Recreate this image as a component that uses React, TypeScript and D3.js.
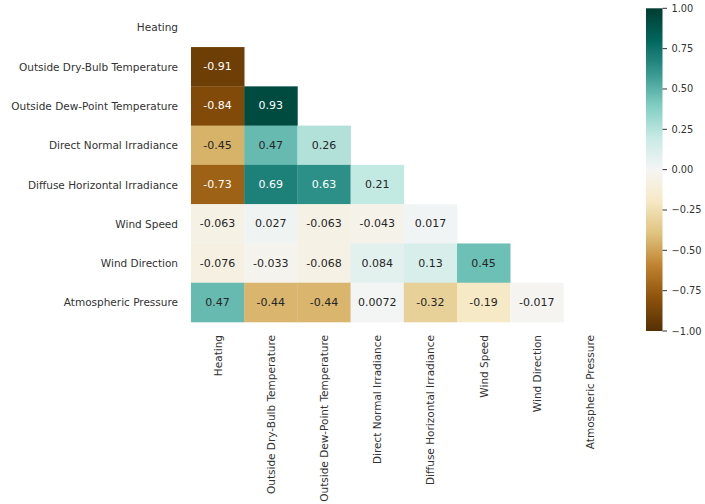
import React from "react";
import * as d3 from "d3";

const variables = [
  "Heating",
  "Outside Dry-Bulb Temperature",
  "Outside Dew-Point Temperature",
  "Direct Normal Irradiance",
  "Diffuse Horizontal Irradiance",
  "Wind Speed",
  "Wind Direction",
  "Atmospheric Pressure",
];

// lower-triangle correlations (row i, columns 0..i-1)
const rowDryBulb = [-0.91];
const rowDewPoint = [-0.84, 0.93];
const rowDNI = [-0.45, 0.47, 0.26];
const rowDHI = [-0.73, 0.69, 0.63, 0.21];
const rowWindSpeed = [-0.063, 0.027, -0.063, -0.043, 0.017];
const rowWindDir = [-0.076, -0.033, -0.068, 0.084, 0.13, 0.45];
const rowPressure = [0.47, -0.44, -0.44, 0.0072, -0.32, -0.19, -0.017];
const lowerRows: number[][] = [[], rowDryBulb, rowDewPoint, rowDNI, rowDHI, rowWindSpeed, rowWindDir, rowPressure];
const annotLabels: string[][] = [
  [],
  ["-0.91"],
  ["-0.84", "0.93"],
  ["-0.45", "0.47", "0.26"],
  ["-0.73", "0.69", "0.63", "0.21"],
  ["-0.063", "0.027", "-0.063", "-0.043", "0.017"],
  ["-0.076", "-0.033", "-0.068", "0.084", "0.13", "0.45"],
  ["0.47", "-0.44", "-0.44", "0.0072", "-0.32", "-0.19", "-0.017"],
];

const colorbarTicks = [-1, -0.75, -0.5, -0.25, 0, 0.25, 0.5, 0.75, 1];
const brbg = ["#543005", "#8c510a", "#bf812d", "#dfc27d", "#f6e8c3", "#f5f5f5", "#c7eae5", "#80cdc1", "#35978f", "#01665e", "#003c30"];

const FONT = "'DejaVu Sans', sans-serif";

function luminance(c: string) {
  const rgb = d3.rgb(c);
  const f = (v: number) => {
    v = v / 255;
    return v <= 0.03928 ? v / 12.92 : Math.pow((v + 0.055) / 1.055, 2.4);
  };
  return 0.2126 * f(rgb.r) + 0.7152 * f(rgb.g) + 0.0722 * f(rgb.b);
}

export default function App() {
  const W = 705, H = 504;
  const left = 191, right = 616.6, top = 7.8, bottom = 322;
  const x = d3.scaleBand<number>().domain(d3.range(8)).range([left, right]).padding(0);
  const y = d3.scaleBand<number>().domain(d3.range(8)).range([top, bottom]).padding(0);
  const color = d3
    .scaleLinear<string>()
    .domain(d3.range(11).map((i) => -1 + (2 * i) / 10))
    .range(brbg)
    .interpolate(d3.interpolateRgb)
    .clamp(true);

  const cbX = 646, cbW = 16.5, cbTop = 8.3, cbBottom = 331;
  const cbY = d3.scaleLinear().domain([-1, 1]).range([cbBottom, cbTop]);
  const fmt = (v: number) => (v < 0 ? "\u2212" : "") + Math.abs(v).toFixed(2);

  const cells: React.ReactNode[] = [];
  lowerRows.forEach((row, i) => {
    row.forEach((v, j) => {
      const c = color(v);
      const txt = luminance(c) > 0.408 ? "#262626" : "#ffffff";
      cells.push(
        <g key={`c${i}-${j}`}>
          <rect x={x(j)!} y={y(i)!} width={x.bandwidth() + 0.3} height={y.bandwidth() + 0.3} fill={c} />
          <text
            x={x(j)! + x.bandwidth() / 2}
            y={y(i)! + y.bandwidth() / 2}
            textAnchor="middle"
            dominantBaseline="central"
            fontSize={11}
            fill={txt}
          >
            {annotLabels[i][j]}
          </text>
        </g>
      );
    });
  });

  const gradStops = d3.range(0, 101).map((k) => {
    const v = -1 + (2 * k) / 100;
    return <stop key={k} offset={`${k}%`} stopColor={color(v)} />;
  });

  return (
    <svg width={W} height={H} style={{ position: "absolute", left: 0, top: 0, background: "#fff" }} fontFamily={FONT}>
      <defs>
        <linearGradient id="cbgrad" x1="0" y1="1" x2="0" y2="0">
          {gradStops}
        </linearGradient>
      </defs>
      {cells}
      {variables.map((name, i) => (
        <text
          key={`yl${i}`}
          x={178}
          y={y(i)! + y.bandwidth() / 2}
          textAnchor="end"
          dominantBaseline="central"
          fontSize={10.5}
          fill="#333333"
        >
          {name}
        </text>
      ))}
      {variables.map((name, i) => {
        const cx = x(i)! + x.bandwidth() / 2;
        const cy = 335;
        return (
          <text
            key={`xl${i}`}
            transform={`translate(${cx},${cy}) rotate(-90)`}
            textAnchor="end"
            dominantBaseline="central"
            fontSize={10.5}
            fill="#333333"
          >
            {name}
          </text>
        );
      })}
      <rect x={cbX} y={cbTop} width={cbW} height={cbBottom - cbTop} fill="url(#cbgrad)" />
      {colorbarTicks.map((t) => (
        <g key={`cb${t}`}>
          <line x1={cbX + cbW} x2={cbX + cbW + 4.5} y1={cbY(t)} y2={cbY(t)} stroke="#333333" strokeWidth={1} />
          <text x={cbX + cbW + 9} y={cbY(t)} dominantBaseline="central" fontSize={9.8} fill="#333333">
            {fmt(t)}
          </text>
        </g>
      ))}
    </svg>
  );
}
